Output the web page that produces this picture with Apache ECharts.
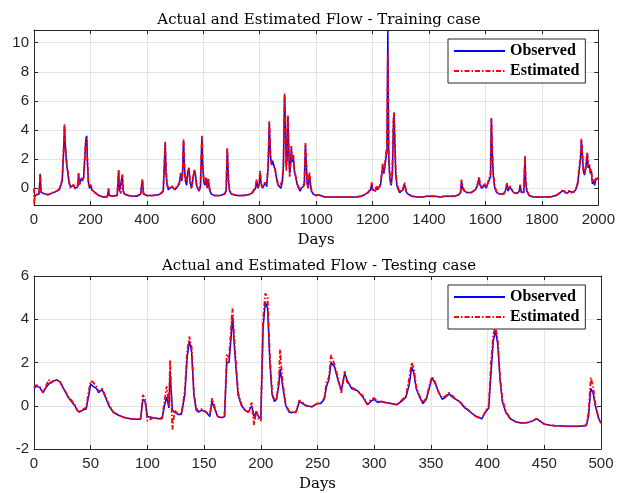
<!DOCTYPE html>
<html>
<head>
<meta charset="utf-8">
<script src="https://cdn.jsdelivr.net/npm/echarts@6/dist/echarts.min.js"></script>
<style>
html,body{margin:0;padding:0;background:#fff;}
#chart{width:618px;height:493px;}
</style>
</head>
<body>
<div id="chart"></div>
<script>
// ---------- Training case ----------
var trainDays = [
0,1,3,10,18,22,25,30,40,50,
60,70,80,90,97,100,105,108,111,115,
120,125,130,135,140,145,150,155,158,161,
165,168,172,176,180,184,187,190,193,197,
201,205,210,220,230,245,260,264,267,280,
295,300,303,308,313,316,320,335,350,365,
378,384,388,400,420,440,452,458,462,465,
468,472,476,482,488,495,500,508,515,520,
524,527,530,533,537,541,545,549,553,558,
563,568,572,576,580,585,590,595,598,602,
606,610,614,618,622,628,640,660,675,681,
685,689,693,700,720,740,760,775,785,789,
793,798,801,805,810,815,820,825,830,834,
838,842,846,850,855,860,865,870,875,880,
884,888,891,894,897,900,903,906,909,912,
915,919,923,927,932,938,943,948,953,958,
962,965,968,972,976,979,983,990,1000,1008,
1015,1030,1060,1100,1140,1160,1175,1185,1193,1197,
1200,1205,1210,1214,1218,1224,1228,1232,1236,1240,
1244,1248,1251,1254,1257,1260,1263,1266,1270,1274,
1276,1279,1282,1286,1291,1296,1302,1308,1313,1318,
1325,1340,1360,1380,1390,1400,1420,1440,1455,1460,
1465,1490,1505,1512,1515,1519,1525,1535,1550,1565,
1572,1577,1581,1587,1593,1598,1603,1608,1613,1618,
1621,1624,1628,1633,1640,1650,1665,1672,1676,1680,
1686,1692,1700,1712,1720,1723,1727,1736,1740,1743,
1747,1755,1770,1800,1830,1850,1865,1875,1882,1890,
1897,1903,1912,1920,1927,1932,1937,1940,1943,1947,
1951,1955,1958,1961,1964,1968,1972,1975,1979,1983,
1987,1991,1995,2000
];
var trainObserved = [
-0.55,-0.55,-0.5,-0.45,-0.4,1.0,-0.3,-0.35,-0.4,-0.45,
-0.35,-0.3,-0.2,-0.1,0.0,0.5,2.5,4.3,3.0,1.8,
1.0,0.3,0.1,0.0,0.2,0.0,-0.1,0.1,1.0,0.3,
0.2,0.7,0.5,0.8,0.7,3.4,3.6,1.5,0.4,0.0,
0.2,-0.1,-0.2,-0.35,-0.5,-0.6,-0.6,-0.1,-0.5,-0.55,
-0.5,1.2,-0.2,-0.3,0.9,-0.2,-0.4,-0.5,-0.55,-0.55,
-0.4,0.6,-0.4,-0.5,-0.5,-0.45,-0.35,-0.2,1.5,3.1,
1.0,0.2,-0.1,-0.1,0.1,0.0,-0.1,0.1,0.3,1.0,
0.5,1.2,3.3,1.5,0.5,0.2,1.1,1.4,0.4,0.0,
-0.1,1.2,1.0,0.2,0.0,-0.2,0.1,3.5,1.5,0.4,
0.2,0.7,0.0,0.6,-0.1,-0.4,-0.5,-0.5,-0.4,-0.2,
2.7,0.6,-0.2,-0.4,-0.5,-0.5,-0.45,-0.3,0.0,0.5,
0.0,0.2,1.1,0.3,0.0,0.2,0.4,0.1,1.5,4.5,
2.2,1.6,1.9,1.5,1.3,0.6,0.2,0.2,0.0,0.4,
1.5,6.4,4.5,1.5,2.0,4.9,2.5,1.0,1.5,2.8,
1.8,2.2,1.2,0.8,0.3,0.0,-0.2,0.0,-0.1,0.2,
3.0,1.6,0.3,0.0,1.0,0.4,-0.2,-0.4,-0.5,-0.45,
-0.55,-0.6,-0.6,-0.6,-0.6,-0.55,-0.4,-0.3,-0.1,0.3,
-0.1,0.0,-0.2,0.1,-0.1,0.0,0.2,0.3,1.5,1.0,
1.5,2.2,2.5,10.87,2.3,1.0,0.4,0.2,1.0,4.5,
5.2,3.0,1.0,0.2,-0.1,-0.3,-0.3,-0.1,0.3,-0.2,
-0.4,-0.55,-0.6,-0.6,-0.55,-0.55,-0.55,-0.6,-0.55,-0.45,
-0.55,-0.55,-0.45,-0.3,0.5,0.0,-0.2,-0.3,-0.3,-0.1,
0.2,0.7,0.2,0.0,-0.1,0.2,0.0,0.3,0.2,0.8,
4.8,2.5,0.8,0.0,-0.3,-0.4,-0.4,-0.1,0.3,-0.2,
0.1,-0.1,-0.3,-0.35,-0.2,0.2,-0.3,-0.3,2.2,0.3,
-0.2,-0.5,-0.6,-0.6,-0.6,-0.5,-0.3,-0.15,-0.3,-0.35,
-0.2,-0.3,-0.3,-0.1,0.3,1.2,2.0,3.3,2.4,1.2,
0.9,1.3,1.8,2.4,1.4,1.6,1.0,1.2,0.3,0.5,
0.2,0.6,0.5,0.7
];
var trainEstimated = [
0.0,-1.15,-0.45,-0.45,-0.35,0.95,-0.3,-0.4,-0.4,-0.45,
-0.35,-0.25,-0.2,-0.05,0.05,0.6,2.7,4.4,2.8,1.9,
1.1,0.4,0.0,0.05,0.25,-0.05,-0.1,0.2,1.05,0.2,
0.3,0.6,0.6,0.7,0.8,3.5,3.6,1.7,0.3,0.1,
0.25,-0.05,-0.25,-0.35,-0.5,-0.6,-0.55,0.0,-0.5,-0.55,
-0.45,1.25,-0.1,-0.35,0.95,-0.1,-0.4,-0.5,-0.55,-0.5,
-0.4,0.6,-0.35,-0.5,-0.5,-0.45,-0.3,-0.15,1.7,3.2,
1.2,0.3,-0.05,-0.15,0.15,0.05,-0.1,0.2,0.35,1.05,
0.6,1.3,3.4,1.6,0.4,0.3,1.0,1.4,0.5,0.05,
-0.05,1.3,0.9,0.3,0.05,-0.15,0.2,3.6,1.7,0.5,
0.3,0.75,0.05,0.65,0.0,-0.35,-0.5,-0.5,-0.4,-0.15,
2.8,0.7,-0.1,-0.4,-0.5,-0.5,-0.45,-0.25,0.1,0.6,
0.1,0.3,1.2,0.4,0.05,0.3,0.45,0.2,1.8,4.6,
2.4,1.7,1.8,1.6,1.2,0.7,0.3,0.1,0.1,0.5,
1.8,6.5,4.8,1.2,2.3,5.0,2.7,0.8,1.7,2.9,
1.9,2.3,1.1,0.9,0.4,0.05,-0.1,0.05,-0.05,0.3,
3.1,1.8,0.4,0.1,1.1,0.5,-0.1,-0.4,-0.5,-0.45,
-0.55,-0.6,-0.6,-0.6,-0.6,-0.55,-0.4,-0.25,0.0,0.4,
0.0,0.05,-0.15,0.2,-0.05,0.1,0.3,0.4,1.7,1.1,
1.7,2.5,2.8,9.3,2.6,1.2,0.5,0.3,1.2,4.8,
5.2,3.2,1.2,0.3,0.0,-0.25,-0.25,0.0,0.4,-0.1,
-0.4,-0.55,-0.6,-0.6,-0.55,-0.55,-0.55,-0.6,-0.55,-0.45,
-0.55,-0.55,-0.45,-0.25,0.6,0.1,-0.15,-0.3,-0.3,-0.05,
0.3,0.8,0.3,0.05,-0.05,0.3,0.05,0.35,0.3,1.0,
4.8,2.7,1.0,0.1,-0.25,-0.4,-0.4,0.0,0.35,-0.1,
0.15,-0.05,-0.3,-0.35,-0.15,0.25,-0.25,-0.25,2.2,0.4,
-0.15,-0.5,-0.6,-0.6,-0.6,-0.5,-0.3,-0.1,-0.25,-0.35,
-0.15,-0.3,-0.25,0.0,0.4,1.4,2.2,3.4,2.6,1.3,
1.0,1.4,2.0,2.5,1.5,1.7,1.1,1.3,0.4,0.6,
0.3,0.7,0.55,0.75
];

// ---------- Testing case ----------
var testDays = [
0,2,5,8,10,13,15,18,20,23,
26,30,33,36,38,40,43,46,48,50,
52,55,57,60,63,66,70,75,80,85,
90,94,96,98,100,105,110,113,115,117,
119,120,122,124,127,130,133,135,137,139,
141,143,145,148,152,155,157,159,162,166,
168,170,172,174,175,177,180,183,186,189,
192,194,196,198,200,202,204,206,208,210,
212,214,216,217,219,222,225,228,231,234,
237,240,245,248,250,253,256,258,260,262,
265,268,271,274,276,280,285,290,294,297,
300,303,306,310,315,320,324,328,331,333,
335,337,340,343,346,349,351,354,357,360,
363,366,369,372,375,380,385,390,395,398,
401,403,405,407,409,411,413,416,420,425,
430,435,440,443,446,450,455,460,470,480,
487,489,491,493,495,498,500
];
var testObserved = [
0.8,0.9,0.85,0.6,0.8,1.0,1.1,1.15,1.2,1.1,
0.8,0.4,0.2,0.0,-0.2,-0.3,-0.2,-0.15,0.4,1.0,
0.9,0.8,0.6,0.75,0.4,0.0,-0.3,-0.45,-0.55,-0.6,
-0.62,-0.62,0.3,0.2,-0.5,-0.55,-0.6,-0.6,0.0,0.4,
-0.1,1.6,-0.2,-0.3,-0.4,-0.4,0.5,2.2,3.0,2.5,
0.5,-0.2,-0.3,-0.2,-0.3,-0.5,0.2,-0.1,-0.5,-0.55,
-0.5,2.0,2.0,3.3,4.2,2.5,0.5,0.0,-0.2,-0.3,
0.0,-0.5,-0.3,-0.5,-0.6,3.6,4.8,4.5,2.0,0.5,
0.2,0.3,1.0,1.7,1.0,0.0,-0.3,-0.3,-0.3,0.2,
0.1,0.0,-0.05,0.05,0.1,0.1,0.3,0.9,1.2,2.0,
1.8,1.2,0.7,1.5,1.2,0.8,0.7,0.4,0.05,0.2,
0.3,0.15,0.2,0.15,0.1,0.05,0.2,0.4,1.0,1.8,
1.5,0.8,0.4,0.1,0.3,0.9,1.3,1.0,0.6,0.3,
0.4,0.55,0.4,0.3,0.2,-0.1,-0.3,-0.5,-0.6,-0.3,
-0.1,1.5,3.0,3.5,2.8,1.2,0.2,-0.3,-0.6,-0.75,
-0.8,-0.78,-0.7,-0.6,-0.7,-0.85,-0.9,-0.93,-0.95,-0.95,
-0.92,-0.5,0.8,0.6,0.0,-0.6,-0.8
];
var testEstimated = [
0.85,0.95,0.9,0.6,0.85,1.2,1.05,1.2,1.2,1.1,
0.8,0.45,0.25,0.05,-0.2,-0.3,-0.15,-0.1,0.6,1.15,
1.1,0.9,0.65,0.8,0.45,0.05,-0.3,-0.45,-0.55,-0.6,
-0.62,-0.6,0.5,0.3,-0.7,-0.55,-0.6,-0.55,0.2,0.9,
0.0,2.1,-1.1,-0.2,-0.4,-0.35,0.7,2.5,3.2,2.7,
0.6,-0.1,-0.25,-0.15,-0.3,-0.45,0.35,0.0,-0.5,-0.55,
-0.45,2.4,2.2,3.8,4.5,2.8,0.6,0.05,-0.2,-0.3,
0.15,-0.9,-0.2,-0.6,-0.7,4.0,5.2,5.0,2.3,0.6,
0.25,0.35,1.3,2.6,1.2,0.05,-0.25,-0.35,-0.3,0.25,
0.15,0.0,-0.05,0.05,0.1,0.15,0.35,1.1,1.3,2.35,
1.9,1.3,0.6,1.6,1.1,0.85,0.7,0.45,0.05,0.3,
0.35,0.2,0.2,0.15,0.1,0.05,0.25,0.45,1.3,2.0,
1.7,0.9,0.45,0.15,0.35,1.0,1.35,1.05,0.6,0.35,
0.45,0.6,0.45,0.3,0.2,-0.05,-0.3,-0.5,-0.6,-0.25,
0.0,2.0,3.3,3.65,3.0,1.3,0.3,-0.25,-0.6,-0.75,
-0.8,-0.78,-0.7,-0.6,-0.7,-0.85,-0.9,-0.93,-0.95,-0.95,
-0.9,-0.3,1.3,0.9,0.1,-0.6,-0.8
];

var trainYTicks = [0, 2, 4, 6, 8, 10];
var trainYRange = [-1.15, 10.87];
var testYRange = [-2, 6];
var seriesNames = ['Observed', 'Estimated'];
var titles = ['Actual and Estimated Flow - Training case', 'Actual and Estimated Flow - Testing case'];
var xLabel = 'Days';

function pairs(xs, ys) { return xs.map(function (x, i) { return [x, ys[i]]; }); }

var AX = '#262626';
var GRIDC = '#e3e3e3';
var SANS = 'Liberation Sans';
var SERIF = 'DejaVu Serif';
var LSERIF = 'Liberation Serif';
function plain(v) { return String(v); }

var grids = [
  { left: 34, top: 30, width: 567, height: 175 },
  { left: 34, top: 276, width: 567, height: 176 }
];

function xMain(gi, max, interval) {
  return {
    type: 'value', gridIndex: gi, min: 0, max: max, interval: interval, position: 'bottom',
    axisLine: { show: true, onZero: false, lineStyle: { color: AX, width: 1 } },
    axisTick: { show: true, inside: true, length: 4, lineStyle: { color: AX } },
    axisLabel: { fontFamily: SANS, fontSize: 15, color: AX, margin: 7, formatter: plain },
    splitLine: { show: true, lineStyle: { color: GRIDC, width: 1 } },
    name: xLabel, nameLocation: 'middle', nameGap: 28,
    nameTextStyle: { fontFamily: SERIF, fontSize: 15, color: '#000' }
  };
}
function xTop(gi, max, interval) {
  return {
    type: 'value', gridIndex: gi, min: 0, max: max, interval: interval, position: 'top',
    axisLine: { show: true, onZero: false, lineStyle: { color: AX, width: 1 } },
    axisTick: { show: true, inside: true, length: 4, lineStyle: { color: AX } },
    axisLabel: { show: false }, splitLine: { show: false }
  };
}
function yAxisCfg(gi, pos, range, ticks, interval, main) {
  var cfg = {
    type: 'value', gridIndex: gi, min: range[0], max: range[1], position: pos,
    axisLine: { show: true, onZero: false, lineStyle: { color: AX, width: 1 } },
    axisTick: { show: true, inside: true, length: 4, lineStyle: { color: AX } },
    axisLabel: { show: main, fontFamily: SANS, fontSize: 15, color: AX, margin: 5, formatter: plain },
    splitLine: { show: main, lineStyle: { color: GRIDC, width: 1 } }
  };
  if (ticks) {
    cfg.axisTick.customValues = ticks;
    cfg.axisLabel.customValues = ticks;
  } else {
    cfg.interval = interval;
  }
  return cfg;
}

function lineSeries(name, xi, yi, data, color, type, width, z) {
  return {
    name: name, type: 'line', xAxisIndex: xi, yAxisIndex: yi, data: data,
    symbol: 'none', showSymbol: false, animation: false, z: z,
    lineStyle: { color: color, width: width, type: type },
    itemStyle: { color: color }
  };
}

function legendCfg(top) {
  return {
    data: seriesNames, orient: 'vertical', left: 448, top: top,
    itemWidth: 51, itemHeight: 12, itemGap: 4,
    backgroundColor: '#fff', borderColor: AX, borderWidth: 1,
    padding: [4, 6, 4, 5],
    itemStyle: { opacity: 0 },
    textStyle: { fontFamily: LSERIF, fontSize: 16, fontWeight: 'bold', color: '#000' },
    selectedMode: false
  };
}

var DASHDOT = [5, 2, 1.5, 2];

var option = {
  backgroundColor: '#fff',
  animation: false,
  title: [
    { text: titles[0], left: 314, textAlign: 'center', top: 8,
      textStyle: { fontFamily: SERIF, fontSize: 15, fontWeight: 'normal', color: '#000' } },
    { text: titles[1], left: 314, textAlign: 'center', top: 254,
      textStyle: { fontFamily: SERIF, fontSize: 15, fontWeight: 'normal', color: '#000' } }
  ],
  legend: [legendCfg(39), legendCfg(285)],
  grid: grids,
  xAxis: [xMain(0, 2000, 200), xTop(0, 2000, 200), xMain(1, 500, 50), xTop(1, 500, 50)],
  yAxis: [
    yAxisCfg(0, 'left', trainYRange, trainYTicks, null, true),
    yAxisCfg(0, 'right', trainYRange, trainYTicks, null, false),
    yAxisCfg(1, 'left', testYRange, null, 2, true),
    yAxisCfg(1, 'right', testYRange, null, 2, false)
  ],
  series: [
    lineSeries(seriesNames[0], 0, 0, pairs(trainDays, trainObserved), '#0000ff', 'solid', 1.5, 2),
    lineSeries(seriesNames[1], 0, 0, pairs(trainDays, trainEstimated), '#ff0000', DASHDOT, 1.8, 3),
    lineSeries(seriesNames[0], 2, 2, pairs(testDays, testObserved), '#0000ff', 'solid', 1.5, 2),
    lineSeries(seriesNames[1], 2, 2, pairs(testDays, testEstimated), '#ff0000', DASHDOT, 1.8, 3)
  ]
};

var chart = echarts.init(document.getElementById('chart'), null, { renderer: 'canvas' });
chart.setOption(option);
</script>
</body>
</html>
